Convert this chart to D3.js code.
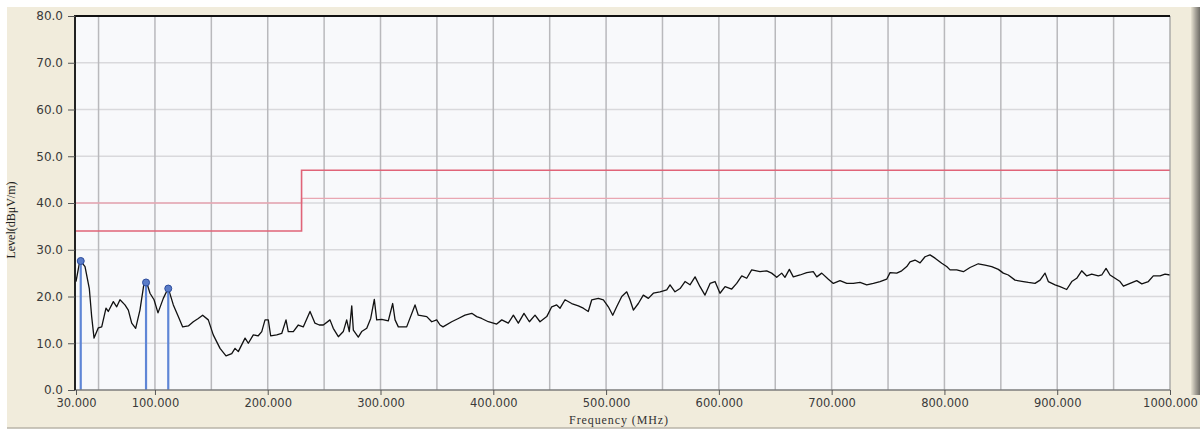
<!DOCTYPE html>
<html><head><meta charset="utf-8">
<script src="https://cdn.jsdelivr.net/npm/d3@7"></script>
<style>
html,body{margin:0;padding:0;background:#fff;}
svg{display:block;}
</style></head>
<body>
<svg id="chart" width="1200" height="430"></svg>
<script>
// ---- data ----
const freq = [30,33.5,38,41.8,43.9,46,49.8,52.8,56.6,58.6,63.1,66.1,69,73.4,76.4,79.4,82.9,86.7,90.3,92.7,95.6,99.2,102.7,107.4,111.8,116.3,120.7,124.6,129.6,134,138.4,142.3,147.3,151.7,157.7,163,168.1,171,173.9,179.9,182.8,187.2,191.6,194.7,197.6,200.5,202.6,208,212.4,216.2,218.2,222.7,227.1,231.5,237.5,241.9,245.7,249.3,255.2,258.1,262.6,267,270,272.3,274.5,275.9,280.3,283.3,287.8,291.3,294.5,296.6,301.1,306.9,310.8,312.9,315.8,323.2,330.6,333.5,341,345.4,349.8,352.8,355.4,363.1,369,374.9,380.9,385.3,389.7,395.6,403,407.5,413.3,417.8,422.2,427.2,432,437,441.4,447.4,451.8,456.2,459.2,463.6,469.5,475.4,479.8,484.2,487.3,493.1,497.6,502,505.9,509.4,513.9,518.3,521.2,524.2,528.6,533,537.5,541.9,547.8,553.8,556.7,561.1,565.6,570,574.4,578.9,583.3,587.7,592.2,596.6,601,605.5,611.4,615.8,620.3,624.7,629.1,636.5,642.4,646.8,651.3,655.7,658.6,662.5,666,672,677.9,683.7,686.8,691.2,697.1,701.5,707.4,713.4,719.2,725.2,731.1,737,742.9,748.8,751.8,757.7,762.1,766.6,769.5,773.9,778.4,782.8,787.2,791.7,797.6,802,805,810.9,816.8,822.7,830,836,841.9,847.8,852.2,856.6,862.6,870,874.4,880.3,884.8,889.2,892.1,898.1,902.5,908.4,912.9,917.3,921.7,926.2,930.6,936.4,939.5,943.3,946.8,951.3,955.7,958.7,964.6,970.5,975,980.8,985.2,991.2,995.6,1000];
const level = [23.2,27.8,26.4,21.7,15.7,11.1,13.3,13.5,17.5,16.8,18.9,17.8,19.3,18.2,17.1,14.3,13.2,17.1,22.8,23.0,20.7,19.3,16.5,19.6,21.8,18.2,15.7,13.5,13.7,14.6,15.3,16.0,15.0,11.8,8.9,7.3,7.8,8.9,8.2,11.1,10.0,11.8,11.6,12.5,15.0,15.0,11.6,11.8,12.1,15.0,12.5,12.5,13.9,13.5,16.8,14.3,13.9,13.9,15.0,13.2,11.4,12.5,15.0,12.5,18.0,12.8,11.3,12.5,13.2,15.3,19.4,15.0,15.1,14.8,18.5,15.0,13.5,13.5,18.2,16.0,15.7,14.6,15.0,13.9,13.5,14.6,15.3,16.0,16.4,15.7,15.3,14.6,14.1,15.0,14.3,16.0,14.3,16.4,14.6,16.0,14.6,15.7,17.8,18.2,17.5,19.3,18.5,18.0,17.5,16.8,19.3,19.6,19.3,17.8,16.0,17.8,20.0,21.0,19.3,17.1,18.5,20.3,19.6,20.7,21.0,21.4,22.5,21.0,21.7,23.2,22.5,24.2,22.1,20.3,22.8,23.2,20.7,22.1,21.6,22.8,24.4,23.9,25.7,25.3,25.5,25.0,24.1,25.0,24.1,25.8,24.2,24.6,25.1,25.3,24.2,25.0,23.7,22.8,23.4,22.8,22.8,23.0,22.5,22.8,23.2,23.7,25.1,25.0,25.5,26.4,27.4,27.8,27.2,28.5,28.9,28.2,27.1,26.4,25.7,25.7,25.3,26.2,27.0,26.7,26.4,25.8,25.0,24.6,23.5,23.2,23.0,22.8,23.5,25.0,23.2,22.5,22.1,21.5,23.2,23.9,25.5,24.4,24.8,24.4,24.6,26.0,24.6,23.9,23.2,22.2,22.8,23.4,22.7,23.2,24.4,24.4,24.8,24.6];
const limitFreq = [30,230,230,1000];
const limitRed  = [34,34,47,47];
const limitPink = [40,40,41,41];
const peakFreq  = [34.2,92.1,111.8];
const peakLevel = [27.6,23.0,21.7];
const xTicks = [30,100,200,300,400,500,600,700,800,900,1000];
const xGrid  = [50,100,150,200,250,300,350,400,450,500,550,600,650,700,750,800,850,900,950];
const yTicks = [0,10,20,30,40,50,60,70,80];
const xTitle = "Frequency (MHz)";
const yTitle = "Level(dBμV/m)";

// ---- layout ----
const svg = d3.select("#chart");
const L = 75, R = 1170, T = 16, B = 390;
const x = d3.scaleLinear().domain([30,1000]).range([L+1,R]);
const y = d3.scaleLinear().domain([0,80]).range([B,T]);

// panel background
svg.append("rect").attr("x",7).attr("y",7).attr("width",1193).attr("height",421).attr("fill","#f1ecdc");
svg.append("line").attr("x1",7).attr("x2",1200).attr("y1",428).attr("y2",428).attr("stroke","#b9b5a8").attr("stroke-width",1.5);
const grad = svg.append("defs").append("linearGradient").attr("id","rg").attr("x1","0").attr("x2","1");
grad.append("stop").attr("offset","0").attr("stop-color","#e8e3d2");
grad.append("stop").attr("offset","0.5").attr("stop-color","#a8a49a");
grad.append("stop").attr("offset","1").attr("stop-color","#6e6c66");
svg.append("rect").attr("x",1191).attr("y",7).attr("width",9).attr("height",388).attr("fill","url(#rg)");

// plot area
svg.append("rect").attr("x",L).attr("y",T).attr("width",R-L).attr("height",B-T).attr("fill","#f8f9fb");

// grid
svg.append("g").selectAll("line").data(yTicks.slice(1,-1)).join("line")
  .attr("x1",L).attr("x2",R).attr("y1",d=>y(d)).attr("y2",d=>y(d))
  .attr("stroke","#d9d9dc").attr("stroke-width",1.5);
svg.append("g").selectAll("line").data(xGrid).join("line")
  .attr("x1",d=>x(d)).attr("x2",d=>x(d)).attr("y1",T).attr("y2",B)
  .attr("stroke","#b9b9bc").attr("stroke-width",1.5);

// limit lines
const lim = d3.line().x((d,i)=>x(limitFreq[i])).y(d=>y(d));
svg.append("path").attr("d",lim(limitPink)).attr("fill","none").attr("stroke","#e9a7b2").attr("stroke-width",1.4);
svg.append("path").attr("d",lim(limitRed)).attr("fill","none").attr("stroke","#e06478").attr("stroke-width",1.6);

// trace
const line = d3.line().x((d,i)=>x(freq[i])).y(d=>y(d));
svg.append("path").attr("d",line(level)).attr("fill","none").attr("stroke","#111").attr("stroke-width",1.3).attr("stroke-linejoin","round");

// peak markers
const pk = svg.append("g");
pk.selectAll("line").data(peakFreq).join("line")
  .attr("x1",d=>x(d)).attr("x2",d=>x(d)).attr("y1",B).attr("y2",(d,i)=>y(peakLevel[i]))
  .attr("stroke","#5f86d6").attr("stroke-width",2.2);
pk.selectAll("circle").data(peakFreq).join("circle")
  .attr("cx",d=>x(d)).attr("cy",(d,i)=>y(peakLevel[i])).attr("r",3.5)
  .attr("fill","#5a7cc8").attr("stroke","#2c4c9c").attr("stroke-width",1);

// frame
svg.append("line").attr("x1",R).attr("x2",R).attr("y1",T).attr("y2",B).attr("stroke","#9a9a9a").attr("stroke-width",1.2);
svg.append("line").attr("x1",L).attr("x2",R).attr("y1",B).attr("y2",B).attr("stroke","#7d7d7d").attr("stroke-width",1.5);
svg.append("line").attr("x1",L).attr("x2",R).attr("y1",T).attr("y2",T).attr("stroke","#111").attr("stroke-width",2);
svg.append("line").attr("x1",L).attr("x2",L).attr("y1",T-1).attr("y2",B).attr("stroke","#222").attr("stroke-width",2);

// axes
const font = "'DejaVu Sans', Verdana, sans-serif";
const ya = svg.append("g").attr("transform",`translate(${L},0)`)
  .call(d3.axisLeft(y).tickValues(yTicks).tickFormat(d3.format(".1f")).tickSize(7).tickPadding(5));
ya.select(".domain").remove();
ya.selectAll("line").attr("stroke","#555");
ya.selectAll("text").attr("font-family",font).attr("font-size",12).attr("fill","#3a3a3a");

const xa = svg.append("g").attr("transform",`translate(0,${B})`)
  .call(d3.axisBottom(x).tickValues(xTicks).tickFormat(d3.format(".3f")).tickSize(5).tickPadding(4));
xa.select(".domain").remove();
xa.selectAll("line").attr("stroke","#555");
xa.selectAll("text").attr("font-family",font).attr("font-size",11.5).attr("fill","#3a3a3a");

// titles
svg.append("text").attr("x",619).attr("y",424).attr("text-anchor","middle")
  .attr("font-family","'Liberation Serif','DejaVu Serif',serif").attr("font-size",12)
  .attr("letter-spacing","0.9px").attr("fill","#333").text(xTitle);
svg.append("text").attr("transform","translate(15,220) rotate(-90)").attr("text-anchor","middle")
  .attr("font-family","'Liberation Serif','DejaVu Serif',serif").attr("font-size",12)
  .attr("fill","#222").text(yTitle);
</script>
</body></html>
